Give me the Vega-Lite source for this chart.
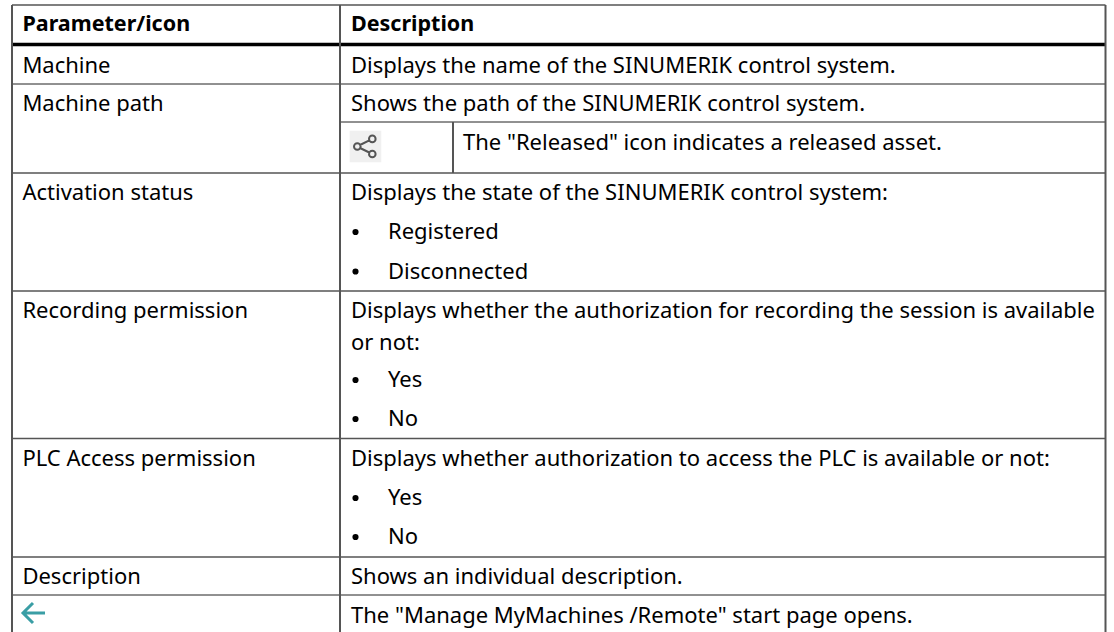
{
"$schema":"https://vega.github.io/schema/vega-lite/v6.json",
"width":1114,"height":632,"padding":0,
"autosize":{"type":"fit","contains":"padding"},
"background":"white",
"config":{"view":{"stroke":null}},
"datasets":{
"grid":[
{"kind":"light","c1":0,"c2":7,"r1":-0.5,"r2":-0.5},
{"kind":"heavy","c1":0,"c2":7,"r1":0.5,"r2":0.5},
{"kind":"thin","c1":0,"c2":7,"r1":1.5,"r2":1.5},
{"kind":"thin","c1":2,"c2":7,"r1":2.5,"r2":2.5},
{"kind":"light","c1":0,"c2":7,"r1":3.5,"r2":3.5},
{"kind":"light","c1":0,"c2":7,"r1":6.5,"r2":6.5},
{"kind":"light","c1":0,"c2":7,"r1":10.5,"r2":10.5},
{"kind":"light","c1":0,"c2":7,"r1":13.5,"r2":13.5},
{"kind":"thin","c1":0,"c2":7,"r1":14.5,"r2":14.5},
{"kind":"border","c1":0,"c2":0,"r1":-0.5,"r2":15.5},
{"kind":"border","c1":2,"c2":2,"r1":-0.5,"r2":15.5},
{"kind":"border","c1":7,"c2":7,"r1":-0.5,"r2":15.5},
{"kind":"border","c1":5,"c2":5,"r1":2.5,"r2":3.5}
],
"cells":[
{"role":"header","col":1,"row":0,"label":"Parameter/icon"},
{"role":"header","col":3,"row":0,"label":"Description"},
{"role":"body","col":1,"row":1,"label":"Machine"},
{"role":"body","col":3,"row":1,"label":"Displays the name of the SINUMERIK control system."},
{"role":"body","col":1,"row":2,"label":"Machine path"},
{"role":"body","col":3,"row":2,"label":"Shows the path of the SINUMERIK control system."},
{"role":"body","col":6,"row":3,"label":"The \"Released\" icon indicates a released asset."},
{"role":"body","col":1,"row":4,"label":"Activation status"},
{"role":"body","col":3,"row":4,"label":"Displays the state of the SINUMERIK control system:"},
{"role":"body","col":4,"row":5,"label":"Registered"},
{"role":"body","col":4,"row":6,"label":"Disconnected"},
{"role":"body","col":1,"row":7,"label":"Recording permission"},
{"role":"body","col":3,"row":7,"label":"Displays whether the authorization for recording the session is available"},
{"role":"body","col":3,"row":8,"label":"or not:"},
{"role":"body","col":4,"row":9,"label":"Yes"},
{"role":"body","col":4,"row":10,"label":"No"},
{"role":"body","col":1,"row":11,"label":"PLC Access permission"},
{"role":"body","col":3,"row":11,"label":"Displays whether authorization to access the PLC is available or not:"},
{"role":"body","col":4,"row":12,"label":"Yes"},
{"role":"body","col":4,"row":13,"label":"No"},
{"role":"body","col":1,"row":14,"label":"Description"},
{"role":"body","col":3,"row":14,"label":"Shows an individual description."},
{"role":"body","col":3,"row":15,"label":"The \"Manage MyMachines /Remote\" start page opens."}
],
"bullets":[{"col":3.2,"row":5},{"col":3.2,"row":6},{"col":3.2,"row":9},{"col":3.2,"row":10},{"col":3.2,"row":12},{"col":3.2,"row":13}],
"iconbox":[{"col":3.5,"row":3.1,"icon":"Released"}],
"arrow":[{"col":1.5,"row":14.9,"icon":"Back"}]
},
"encoding":{
"x":{"field":"col","type":"quantitative","axis":null,"scale":{"domain":[0,1,1.5,2,3,3.2,3.5,4,5,6,7],"range":[12,22.4,34,340,351,355.5,365.5,388,453,463,1105.5],"nice":false,"zero":false}},
"y":{"field":"row","type":"quantitative","axis":null,"scale":{"domain":[-0.5,0,0.5,1,1.5,2,2.5,3,3.1,3.5,4,5,6,6.5,7,8,9,10,10.5,11,12,13,13.5,14,14.5,14.9,15,15.5],"range":[5,25,44.5,66,84,104,122,143,146.5,173,193,232,271.5,291,311,343,380,419,438.5,459,498,537,557,577,595,613,616,632],"nice":false,"zero":false}}
},
"layer":[
{"data":{"name":"iconbox"},"mark":{"type":"point","shape":"square","filled":true,"color":"#f0f0f0","size":1000,"opacity":1}},
{"data":{"name":"iconbox"},"mark":{"type":"point","shape":"M-1.15 0a.33 .33 0 1 0 .66 0a.33 .33 0 1 0 -.66 0M.35 -.76a.33 .33 0 1 0 .66 0a.33 .33 0 1 0 -.66 0M.35 .75a.33 .33 0 1 0 .66 0a.33 .33 0 1 0 -.66 0M-.55 -.15L.38 -.62M-.55 .15L.38 .6","filled":false,"stroke":"#555555","strokeWidth":2,"size":400,"opacity":1}},
{"data":{"name":"arrow"},"mark":{"type":"point","shape":"M-1.1 0L1.1 0M-.1 -1L-1.1 0L-.1 1","filled":false,"stroke":"#3a9ea5","strokeWidth":3,"size":400,"opacity":1}},
{"data":{"name":"grid"},"mark":{"type":"rule"},
"encoding":{
"x":{"field":"c1","type":"quantitative"},"x2":{"field":"c2"},
"y":{"field":"r1","type":"quantitative"},"y2":{"field":"r2"},
"color":{"field":"kind","type":"nominal","legend":null,"scale":{"domain":["border","light","thin","heavy"],"range":["#555555","#555555","#222222","#000000"]}},
"strokeWidth":{"field":"kind","type":"nominal","legend":null,"scale":{"type":"ordinal","domain":["border","light","thin","heavy"],"range":[2,1.5,1,3.5]}}
}},
{"data":{"name":"bullets"},"mark":{"type":"point","shape":"circle","filled":true,"color":"#000000","size":38,"opacity":1}},
{"data":{"name":"cells"},"transform":[{"filter":"datum.role==='body'"}],"mark":{"type":"text","align":"left","baseline":"middle","font":"Noto Sans","fontSize":22,"color":"#000000"},"encoding":{"text":{"field":"label"}}},
{"data":{"name":"cells"},"transform":[{"filter":"datum.role==='header'"}],"mark":{"type":"text","align":"left","baseline":"middle","font":"Noto Sans","fontSize":21.5,"fontWeight":"bold","color":"#000000"},"encoding":{"text":{"field":"label"}}}
]
}
